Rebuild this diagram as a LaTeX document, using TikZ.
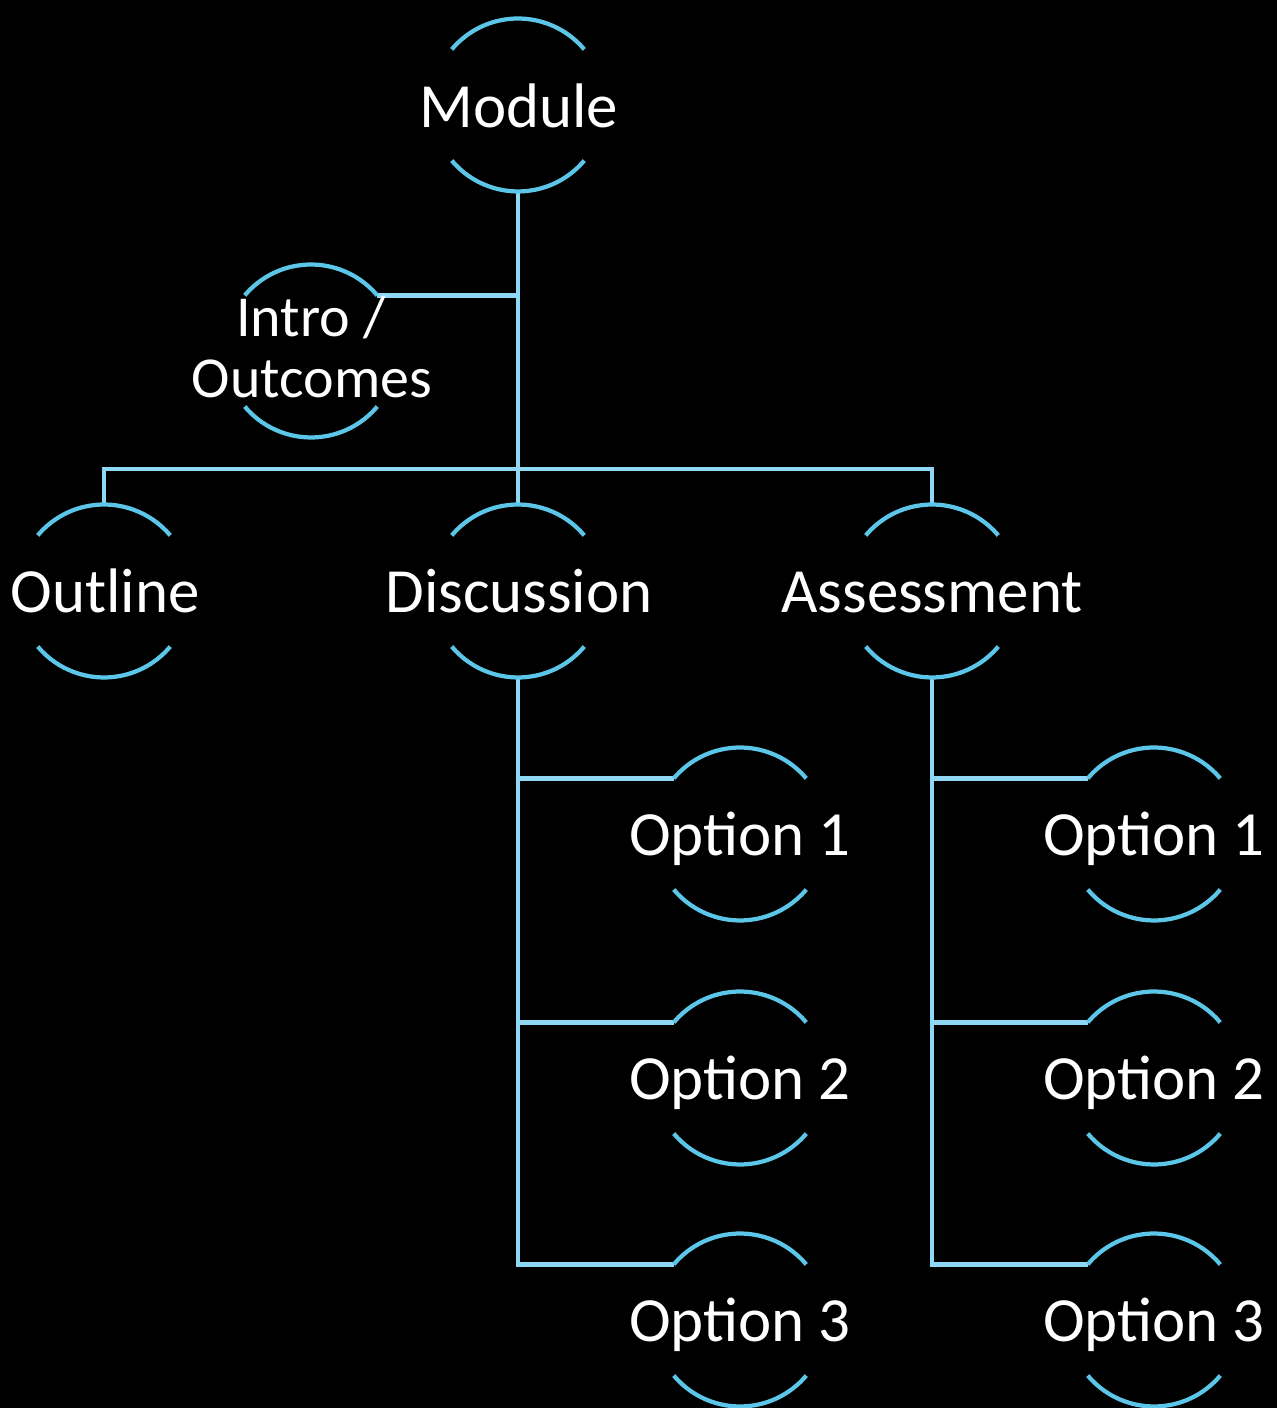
\documentclass[tikz,border=0pt]{standalone}
\usepackage{fontspec}
\setmainfont{Carlito}
\definecolor{arcblue}{RGB}{92,198,232}
\definecolor{lineblue}{RGB}{142,216,246}
\begin{document}
\begin{tikzpicture}[x=0.02cm,y=0.02cm,
  circ/.style={circle,minimum size=3.46cm,inner sep=0pt,outer sep=0pt,draw=none},
  lbl/.style={text=white,anchor=base,inner sep=0pt,font=\fontsize{35.8}{42}\selectfont},
  slbl/.style={text=white,anchor=base,inner sep=0pt,font=\fontsize{33}{38}\selectfont},
  conn/.style={draw=lineblue,line width=2.7pt},
  arcs/.style={draw=arcblue,line width=2.4pt}]
\fill[black] (0,0) rectangle (1277,1408);
\useasboundingbox (0,0) rectangle (1277,1408);
% circles
\node[circ] (m) at (518,1303) {};
\node[circ] (io) at (311,1057) {};
\node[circ] (ol) at (104,817) {};
\node[circ] (di) at (518,817) {};
\node[circ] (as) at (932,817) {};
\node[circ] (d1) at (740,574) {};
\node[circ] (d2) at (740,330) {};
\node[circ] (d3) at (740,88) {};
\node[circ] (a1) at (1154,574) {};
\node[circ] (a2) at (1154,330) {};
\node[circ] (a3) at (1154,88) {};
\coordinate (bar) at (518,939);
% connectors
\draw[conn] (m.south) -- (di.north);
\draw[conn] (io.40) -- (io.40 -| m.south);
\draw[conn] (ol.north) -- (ol.north |- bar) -- (as.north |- bar) -- (as.north);
\draw[conn] (di.south) |- (d3.140);
\draw[conn] (d1.140) -- (d1.140 -| di.south);
\draw[conn] (d2.140) -- (d2.140 -| di.south);
\draw[conn] (as.south) |- (a3.140);
\draw[conn] (a1.140) -- (a1.140 -| as.south);
\draw[conn] (a2.140) -- (a2.140 -| as.south);
% arcs
\foreach \n in {m,io,ol,di,as,d1,d2,d3,a1,a2,a3}{
  \draw[arcs] (\n.40) arc[start angle=40,end angle=140,radius=1.73cm];
  \draw[arcs] (\n.220) arc[start angle=220,end angle=320,radius=1.73cm];
}
% labels
\node[lbl] (mt) at (519,1280) {Module};
\node[slbl] (iot1) at (311,1071) {Intro /};
\node[slbl] (iot2) at (312,1010) {Outcomes};
\node[lbl] (olt) at (105,795) {Outline};
\node[lbl] (dit) at (519,795) {Discussion};
\node[lbl] (ast) at (932,795) {Assessment};
\node[lbl] (d1t) at (740,552) {Option 1};
\node[lbl] (d2t) at (740,308) {Option 2};
\node[lbl] (d3t) at (740,66) {Option 3};
\node[lbl] (a1t) at (1154,552) {Option 1};
\node[lbl] (a2t) at (1154,308) {Option 2};
\node[lbl] (a3t) at (1154,66) {Option 3};
\end{tikzpicture}
\end{document}
